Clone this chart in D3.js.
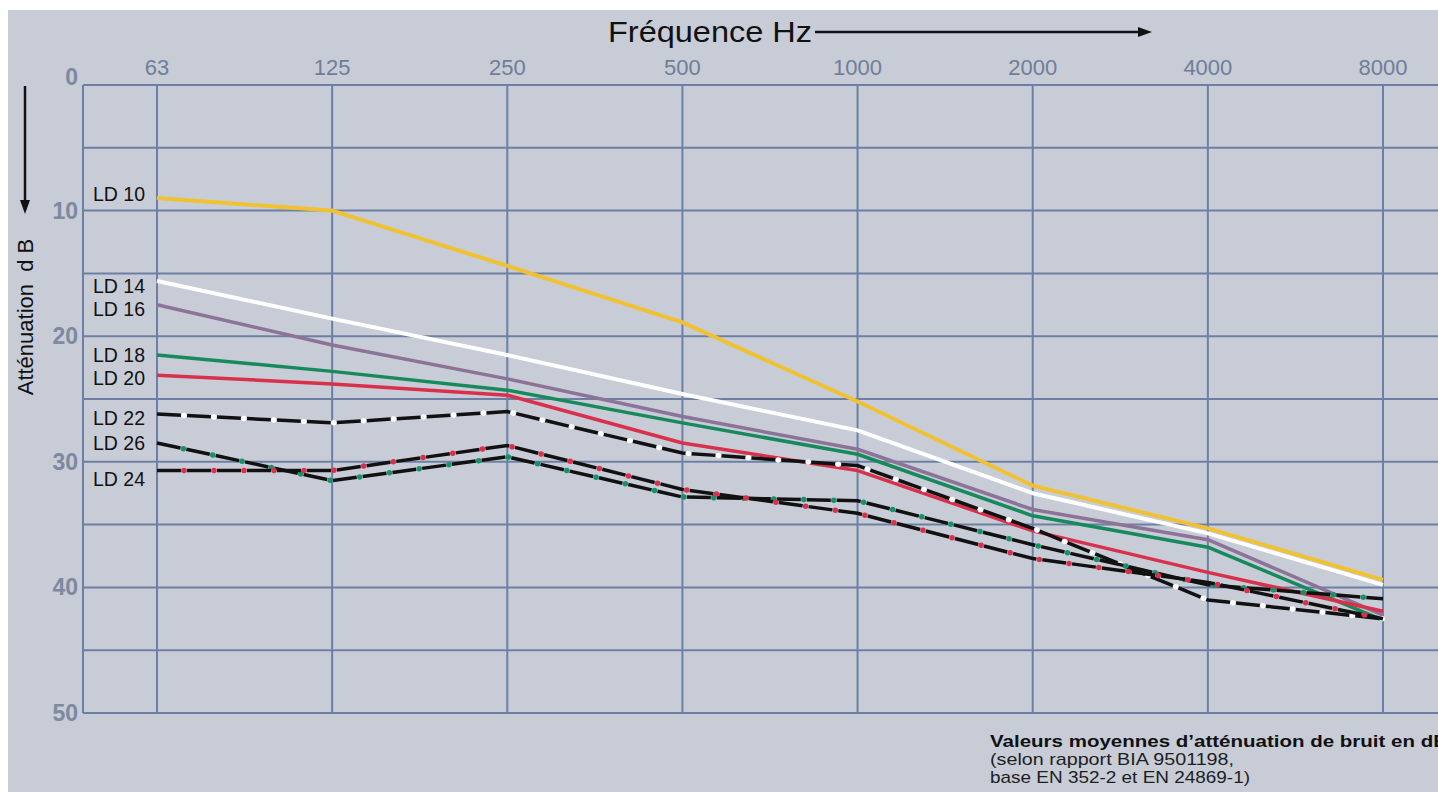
<!DOCTYPE html>
<html>
<head>
<meta charset="utf-8">
<script src="https://cdn.jsdelivr.net/npm/d3@7"></script>
<style>
  html, body { margin: 0; padding: 0; background: #fff; }
  svg { display: block; }
  text { font-family: "Liberation Sans", Arial, sans-serif; }
</style>
</head>
<body>
<svg id="chart"></svg>
<script>
// Frequencies (top axis) and attenuation in dB per hearing protector
const freqs  = ["63", "125", "250", "500", "1000", "2000", "4000", "8000"];
const yTicks = [0, 10, 20, 30, 40, 50];

const ld10 = [9.0, 10.0, 14.4, 18.9, 25.2, 31.9, 35.3, 39.4];
const ld14 = [15.6, 18.6, 21.5, 24.6, 27.5, 32.5, 35.7, 39.8];
const ld16 = [17.5, 20.7, 23.4, 26.4, 29.0, 33.8, 36.2, 42.2];
const ld18 = [21.5, 22.8, 24.3, 26.9, 29.4, 34.3, 36.8, 42.6];
const ld20 = [23.1, 23.8, 24.7, 28.5, 30.7, 35.5, 38.8, 41.9];
const ld22 = [26.2, 26.9, 26.0, 29.3, 30.3, 35.3, 41.0, 42.5];
const ld26 = [28.5, 31.5, 29.6, 32.8, 33.1, 36.6, 39.8, 40.9];
const ld24 = [30.7, 30.7, 28.7, 32.2, 34.1, 37.7, 39.6, 42.5];

const seriesNames = ["LD 10", "LD 14", "LD 16", "LD 18", "LD 20", "LD 22", "LD 26", "LD 24"];
const seriesVals  = [ld10, ld14, ld16, ld18, ld20, ld22, ld26, ld24];

// look of each curve (solid colour, or black dashes with a coloured dot in each gap)
const styles = {
  "LD 10": { color: "#f0c232", width: 4 },
  "LD 14": { color: "#ffffff", width: 4 },
  "LD 16": { color: "#8c7397", width: 3.5 },
  "LD 18": { color: "#168a5c", width: 3.5 },
  "LD 20": { color: "#d9304c", width: 3.5 },
  "LD 22": { dot: "#ffffff", width: 3.5 },
  "LD 26": { dot: "#17916a", width: 3.5 },
  "LD 24": { dot: "#d9304c", width: 3.5 }
};
// small vertical shift of the left labels
const labelNudge = { "LD 10": -4, "LD 14": 5, "LD 16": 4, "LD 18": 0, "LD 20": 3,
                     "LD 22": 4, "LD 26": 0, "LD 24": 8 };

const width  = 1438,
      height = 792;
const plotLeft = 83, plotTop = 85, plotBottom = 713;

const svg = d3.select("#chart")
  .attr("width",  width)
  .attr("height", height);

// paper background
svg.append("rect")
  .attr("x", 8).attr("y", 10)
  .attr("width", width - 8).attr("height", height - 10)
  .attr("fill", "#c7ccd7");

const x = d3.scalePoint().domain(freqs).range([157, 1383]);
const y = d3.scaleLinear().domain([0, 50]).range([plotTop, plotBottom]);

// 1) Grid
const grid = svg.append("g")
  .attr("stroke", "#6d80a3")
  .attr("stroke-width", 2);

grid.selectAll(".h")
  .data(d3.range(0, 51, 5))
  .join("line")
    .attr("class", "h")
    .attr("x1", plotLeft).attr("x2", width)
    .attr("y1", d => y(d)).attr("y2", d => y(d));

grid.selectAll(".v")
  .data(freqs)
  .join("line")
    .attr("class", "v")
    .attr("x1", d => x(d)).attr("x2", d => x(d))
    .attr("y1", plotTop).attr("y2", plotBottom);

grid.append("line")
  .attr("x1", plotLeft).attr("x2", plotLeft)
  .attr("y1", plotTop).attr("y2", plotBottom);

// 2) Axes labels
svg.append("g")
  .selectAll("text")
  .data(freqs)
  .join("text")
    .attr("x", d => x(d))
    .attr("y", 75)
    .attr("text-anchor", "middle")
    .attr("font-size", 22)
    .attr("fill", "#6f7e97")
    .text(d => d);

svg.append("g")
  .selectAll("text")
  .data(yTicks)
  .join("text")
    .attr("x", 78)
    .attr("y", d => y(d) + (d === 0 ? 0 : 8))
    .attr("text-anchor", "end")
    .attr("font-size", 23)
    .attr("font-weight", "bold")
    .attr("fill", "#7d899f")
    .text(d => d);

const defs = svg.append("defs");
defs.append("marker")
    .attr("id", "arrow")
    .attr("viewBox", "0 -5 14 10")
    .attr("refX", 0)
    .attr("refY", 0)
    .attr("markerWidth", 5.6)
    .attr("markerHeight", 4)
    .attr("orient", "auto")
  .append("path")
    .attr("d", "M0,-5L14,0L0,5")
    .attr("fill", "#111");

svg.append("text")
  .attr("x", 608)
  .attr("y", 42)
  .attr("font-size", 29)
  .attr("textLength", 204)
  .attr("lengthAdjust", "spacingAndGlyphs")
  .attr("fill", "#111")
  .text("Fréquence Hz");

svg.append("line")
  .attr("x1", 815).attr("x2", 1138)
  .attr("y1", 32).attr("y2", 32)
  .attr("stroke", "#111")
  .attr("stroke-width", 2.5)
  .attr("marker-end", "url(#arrow)");

svg.append("line")
  .attr("x1", 25).attr("x2", 25)
  .attr("y1", 86).attr("y2", 200)
  .attr("stroke", "#111")
  .attr("stroke-width", 2.5)
  .attr("marker-end", "url(#arrow)");

svg.append("text")
  .attr("transform", "translate(33,317) rotate(-90)")
  .attr("text-anchor", "middle")
  .attr("font-size", 22)
  .attr("fill", "#111")
  .style("white-space", "pre")
  .text("Atténuation  d B");

// 3) Curves
const line = d3.line()
  .x((d, i) => x(freqs[i]))
  .y(d => y(d));

const curves = svg.append("g").attr("fill", "none");

seriesNames.forEach((name, k) => {
  const s = styles[name], vals = seriesVals[k];
  if (s.color) {
    curves.append("path")
      .attr("d", line(vals))
      .attr("stroke", s.color)
      .attr("stroke-width", s.width)
      .attr("stroke-linejoin", "round");
  }
});

seriesNames.forEach((name, k) => {
  const s = styles[name], vals = seriesVals[k];
  if (s.dot) {
    curves.append("path")
      .attr("d", line(vals))
      .attr("stroke", "#111")
      .attr("stroke-width", s.width)
      .attr("stroke-dasharray", "24 6");
    curves.append("path")
      .attr("d", line(vals))
      .attr("stroke", s.dot)
      .attr("stroke-width", 5.5)
      .attr("stroke-linecap", "round")
      .attr("stroke-dasharray", "0 30")
      .attr("stroke-dashoffset", 3);
  }
});

// 4) Series labels on the left
svg.append("g")
  .selectAll("text")
  .data(seriesNames)
  .join("text")
    .attr("x", 93)
    .attr("y", (d, i) => y(seriesVals[i][0]) + labelNudge[d] + 7)
    .attr("font-size", 19.5)
    .attr("fill", "#111")
    .text(d => d);

// 5) Note under the chart
const note = svg.append("g").attr("fill", "#1e1e1e");
note.append("text")
  .attr("x", 990).attr("y", 747)
  .attr("font-size", 17)
  .attr("font-weight", "bold")
  .attr("textLength", 458)
  .attr("lengthAdjust", "spacingAndGlyphs")
  .attr("fill", "#111")
  .text("Valeurs moyennes d’atténuation de bruit en dB");
note.append("text")
  .attr("x", 990).attr("y", 765)
  .attr("font-size", 17)
  .attr("textLength", 244)
  .attr("lengthAdjust", "spacingAndGlyphs")
  .text("(selon rapport BIA 9501198,");
note.append("text")
  .attr("x", 990).attr("y", 783)
  .attr("font-size", 17)
  .attr("textLength", 260)
  .attr("lengthAdjust", "spacingAndGlyphs")
  .text("base EN 352-2 et EN 24869-1)");
</script>
</body>
</html>
